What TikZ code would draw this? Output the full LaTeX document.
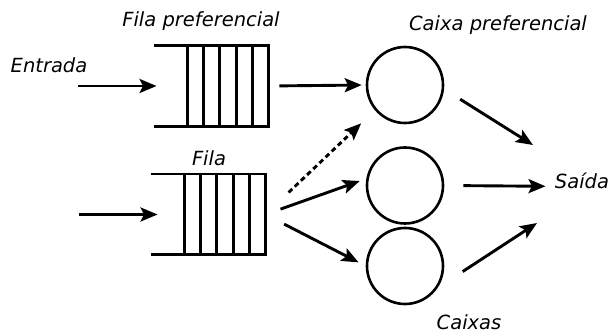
\documentclass[tikz,border=0pt]{standalone}
\usepackage{fontspec}
\setmainfont{DejaVu Sans}
\usetikzlibrary{arrows.meta}
\begin{document}
\begin{tikzpicture}[x=1pt,y=-1pt,
  line width=2.9pt,
  lbl/.style={font=\fontsize{19.5}{23}\selectfont\itshape, inner sep=0pt, anchor=base},
  conn/.style={-{Stealth[length=17pt,width=14pt,inset=3.5pt]}},
  dashconn/.style={conn, dash pattern=on 5pt off 3.5pt},
  queuebox/.style={minimum width=112pt, minimum height=78pt, inner sep=0pt},
  server/.style={circle, draw, line width=2.6pt, minimum size=76pt, inner sep=0pt}]
\useasboundingbox (0,0) rectangle (610,336);
\fill[white] (0,0) rectangle (610,336);

% queues
\node[queuebox] (q1) at (211,86) {};
\node[queuebox] (q2) at (208,214.5) {};
\foreach \q in {q1,q2}{
  \draw (\q.north west) -- (\q.north east) -- (\q.south east) -- (\q.south west);
  \foreach \d in {16.2,32.4,48.6,64.8,81}{
    \draw ([xshift=-\d pt]\q.north east) -- ([xshift=-\d pt]\q.south east);
  }
}

% servers
\node[server] (c1) at (405,85) {};
\node[server] (c2) at (405,185.5) {};
\node[server] (c3) at (405,266) {};

% labels
\node[lbl] (tfp) at (201,27) {Fila preferencial};
\node[lbl] (tent) at (49,73) {Entrada};
\node[lbl] (tfila) at (209,166) {Fila};
\node[lbl] (tcp) at (498,31) {Caixa preferencial};
\node[lbl] (saida) at (582,189) {Saída};
\node[lbl] (tcx) at (469,330) {Caixas};

% free ends
\coordinate (in1) at (78,86);
\coordinate (in2) at (79,214.5);
\coordinate (s1) at (533,145);
\coordinate (s3) at (537,223);

% connectors
\draw[conn, shorten >=-3pt] (in1) -- (q1.west);
\draw[conn, shorten >=-7pt] (in2) -- (q2.west);
\draw[conn, shorten <=11pt, shorten >=4pt] (q1.east) -- (c1.west);
\draw[dashconn, shorten <=32pt, shorten >=19pt] (q2.east) -- (c1.220);
\draw[conn, shorten <=16pt, shorten >=7pt] (q2.east) -- (c2.170);
\draw[conn, shorten <=21pt, shorten >=8pt] (q2.east) -- (c3.180);
\draw[conn, shorten <=19pt] (c1.-6) -- (s1);
\draw[conn, shorten <=19pt, shorten >=8pt] (c2.east) -- ([yshift=-5pt]saida.west);
\draw[conn, shorten <=30pt] (c3.-34) -- (s3);
\end{tikzpicture}
\end{document}
